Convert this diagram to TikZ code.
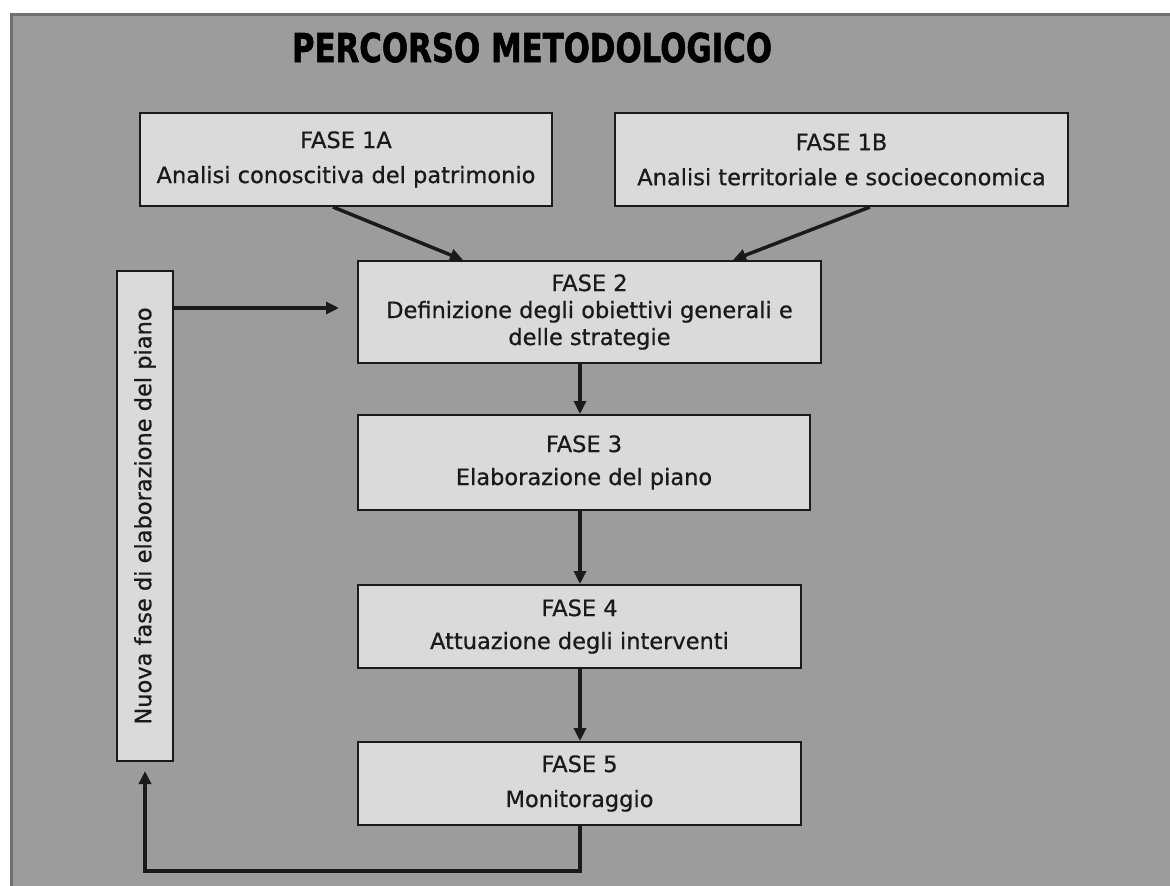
\documentclass[tikz,border=0pt]{standalone}
\usepackage{fontspec}
\setmainfont{DejaVu Sans}
\newfontfamily\boxfont{DejaVu Sans}[FakeBold=0.7]
\newfontfamily\titlefont{DejaVu Sans}[BoldFeatures={FakeBold=1.6}]
\usetikzlibrary{arrows.meta}
\definecolor{panel}{HTML}{9C9C9C}
\definecolor{boxfill}{HTML}{DADADA}
\definecolor{ink}{HTML}{1A1A1A}
\definecolor{rim}{HTML}{707070}

\begin{document}
\begin{tikzpicture}[x=1pt,y=-1pt,
  stage/.style={draw=ink, line width=2pt, fill=boxfill, text=ink, align=center,
                inner sep=0pt, font=\boxfont\fontsize{22.5}{27}\selectfont},
  arr/.style={draw=ink, line width=3.5pt, -{Triangle[length=13pt,width=12pt]}}]
\useasboundingbox (0,0) rectangle (1170,886);
\fill[white] (0,0) rectangle (1170,886);
% grey panel with its darker inset rim
\fill[panel] (10,13) rectangle (1170,886);
\draw[rim, line width=3pt] (11.5,886) -- (11.5,14.5) -- (1170,14.5);

% title
\node[anchor=base, text=black, inner sep=0pt] (title) at (532,62)
  {\resizebox{480pt}{29.5pt}{\titlefont\bfseries PERCORSO METODOLOGICO}};

% phases
\node[stage, minimum width=412pt, minimum height=93pt] (f1a) at (346,159.5)
  {FASE 1A\\[8pt]Analisi conoscitiva del patrimonio};
\node[stage, minimum width=453pt, minimum height=93pt] (f1b) at (841.5,159.5)
  {FASE 1B\\[8pt]Analisi territoriale e socioeconomica};
\node[stage, minimum width=463pt, minimum height=102pt] (f2) at (589.5,312)
  {FASE 2\\Definizione degli obiettivi generali e\\delle strategie};
\node[stage, minimum width=452pt, minimum height=95pt] (f3) at (584,462.5)
  {FASE 3\\[6pt]Elaborazione del piano};
\node[stage, minimum width=443pt, minimum height=83pt] (f4) at (579.5,626.5)
  {FASE 4\\[6pt]Attuazione degli interventi};
\node[stage, minimum width=443pt, minimum height=83pt] (f5) at (579.5,783.5)
  {FASE 5\\[8pt]Monitoraggio};

% side box for the new planning cycle
\node[stage, minimum width=56pt, minimum height=490pt] (nuova) at (145,516)
  {\rotatebox{90}{Nuova fase di elaborazione del piano}};

% helper coordinates
\coordinate (col) at (580,0);
\coordinate (loop) at (145,871);
\coordinate (f2in) at ([yshift=4pt]f2.west);

% connectors
\draw[arr] ([xshift=-13pt]f1a.south) -- ([xshift=-126.5pt]f2.north);
\draw[arr] ([xshift=28.5pt]f1b.south) -- ([xshift=143.5pt]f2.north);
\draw[arr] (f2.south -| col) -- (f3.north -| col);
\draw[arr] (f3.south -| col) -- (f4.north -| col);
\draw[arr] (f4.south -| col) -- (f5.north -| col);
\draw[arr, shorten >=18pt] (nuova.east |- f2in) -- (f2in);
\draw[arr, shorten >=9pt] (f5.south -| col) |- (loop) -- (nuova.south);
\end{tikzpicture}
\end{document}
